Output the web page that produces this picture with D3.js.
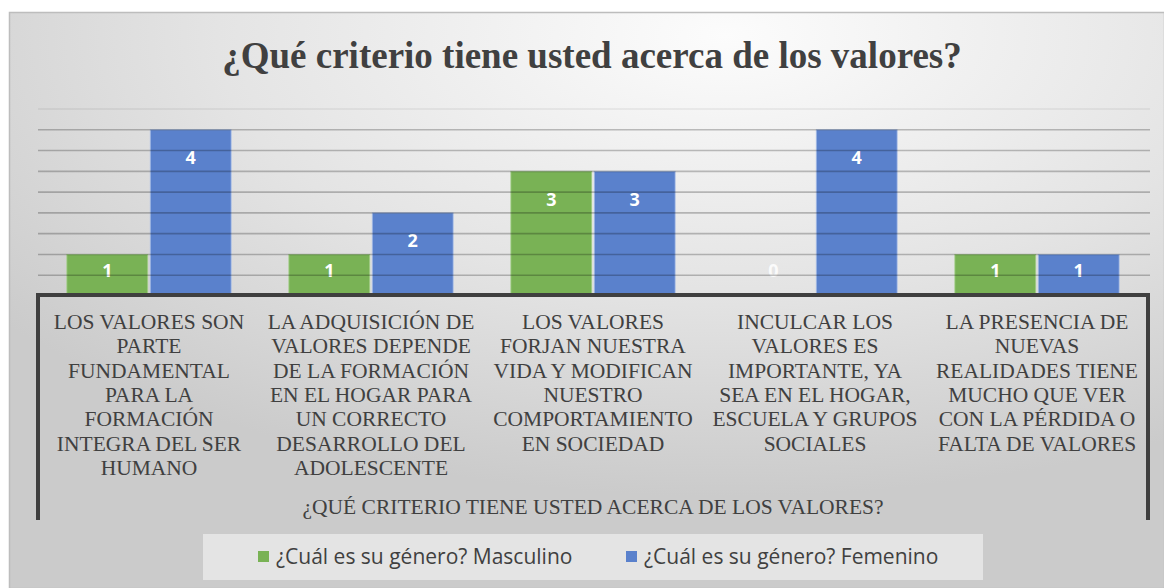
<!DOCTYPE html>
<html>
<head>
<meta charset="utf-8">
<script src="https://cdn.jsdelivr.net/npm/d3@7"></script>
<style>
  body { margin: 0; background: #ffffff; }
  svg { display: block; }
</style>
</head>
<body>
<script>
// chart values
var categories = [
  "LOS VALORES SON PARTE FUNDAMENTAL PARA LA FORMACIÓN INTEGRA DEL SER HUMANO",
  "LA ADQUISICIÓN DE VALORES DEPENDE DE LA FORMACIÓN EN EL HOGAR PARA UN CORRECTO DESARROLLO DEL ADOLESCENTE",
  "LOS VALORES FORJAN NUESTRA VIDA Y MODIFICAN NUESTRO COMPORTAMIENTO EN SOCIEDAD",
  "INCULCAR LOS VALORES ES IMPORTANTE, YA SEA EN EL HOGAR, ESCUELA Y GRUPOS SOCIALES",
  "LA PRESENCIA DE NUEVAS REALIDADES TIENE MUCHO QUE VER CON LA PÉRDIDA O FALTA DE VALORES"
];
var categoryLines = [
  ["LOS VALORES SON", "PARTE", "FUNDAMENTAL", "PARA LA", "FORMACIÓN", "INTEGRA DEL SER", "HUMANO"],
  ["LA ADQUISICIÓN DE", "VALORES DEPENDE", "DE LA FORMACIÓN", "EN EL HOGAR PARA", "UN CORRECTO", "DESARROLLO DEL", "ADOLESCENTE"],
  ["LOS VALORES", "FORJAN NUESTRA", "VIDA Y MODIFICAN", "NUESTRO", "COMPORTAMIENTO", "EN SOCIEDAD"],
  ["INCULCAR LOS", "VALORES ES", "IMPORTANTE, YA", "SEA EN EL HOGAR,", "ESCUELA Y GRUPOS", "SOCIALES"],
  ["LA PRESENCIA DE", "NUEVAS", "REALIDADES TIENE", "MUCHO QUE VER", "CON LA PÉRDIDA O", "FALTA DE VALORES"]
];
var seriesNames = ["¿Cuál es su género? Masculino", "¿Cuál es su género? Femenino"];
var masculino = [1, 1, 3, 0, 1];
var femenino = [4, 2, 3, 4, 1];
var gridValues = [0.5, 1, 1.5, 2, 2.5, 3, 3.5, 4, 4.5];
var seriesColors = ["#79b255", "#5a81cc"];

var title = "¿Qué criterio tiene usted acerca de los valores?";
var groupLabel = "¿QUÉ CRITERIO TIENE USTED ACERCA DE LOS VALORES?";

var width = 1164, height = 588;

var svg = d3.select("body").append("svg")
  .attr("width", width)
  .attr("height", height);

// background gradient of the chart area
var defs = svg.append("defs");
var grad = defs.append("radialGradient")
  .attr("id", "bg")
  .attr("cx", 0.62).attr("cy", 0.04).attr("r", 0.8)
  .attr("fx", 0.62).attr("fy", 0.04);
grad.append("stop").attr("offset", "0").attr("stop-color", "#fcfcfc");
grad.append("stop").attr("offset", "0.55").attr("stop-color", "#e4e4e4");
grad.append("stop").attr("offset", "1").attr("stop-color", "#cbcbcb");

svg.append("rect")
  .attr("x", 9.5).attr("y", 12.5)
  .attr("width", width - 9).attr("height", height - 12)
  .attr("fill", "url(#bg)")
  .attr("stroke", "#bdbdbd")
  .attr("stroke-width", 1.5);

// title
svg.append("text")
  .attr("x", 592).attr("y", 68)
  .attr("text-anchor", "middle")
  .style("font-family", "'Liberation Serif', 'Times New Roman', serif")
  .style("font-weight", "bold")
  .style("font-size", "37px")
  .attr("fill", "#404040")
  .text(title);

// scales
var plotLeft = 38, plotRight = 1148, plotBase = 296, plotTop = 109;
var x0 = d3.scaleBand().domain(d3.range(categories.length)).range([plotLeft, plotRight]);
var bw = x0.bandwidth();
var x1 = d3.scaleBand().domain([0, 1]).range([bw * 0.13, bw * 0.87]).paddingInner(0.03);
var y = d3.scaleLinear().domain([0, 4.5]).range([plotBase, plotTop]);

var rows = categories.map(function (c, i) {
  return { i: i, values: [masculino[i], femenino[i]] };
});

// bars
var groups = svg.selectAll("g.cat")
  .data(rows)
  .enter()
  .append("g")
  .attr("class", "cat")
  .attr("transform", function (d) { return "translate(" + x0(d.i) + ",0)"; });

groups.selectAll("rect")
  .data(function (d) { return d.values.map(function (v, s) { return { s: s, v: v }; }); })
  .enter()
  .append("rect")
  .attr("x", function (d) { return x1(d.s); })
  .attr("y", function (d) { return y(d.v); })
  .attr("width", x1.bandwidth())
  .attr("height", function (d) { return plotBase - y(d.v); })
  .attr("fill", function (d) { return seriesColors[d.s]; })
  .attr("stroke", function (d) { return d.s === 1 ? "#a9bfe8" : "#a6d08a"; })
  .attr("stroke-width", 0.8)
  .attr("stroke-opacity", function (d) { return d.v > 0 ? 1 : 0; });

// gridlines (drawn over the bars, semi transparent)
svg.selectAll("line.grid")
  .data(gridValues)
  .enter()
  .append("line")
  .attr("class", "grid")
  .attr("x1", plotLeft).attr("x2", plotRight + 2)
  .attr("y1", function (d) { return y(d); })
  .attr("y2", function (d) { return y(d); })
  .attr("stroke", "#000")
  .attr("stroke-opacity", function (d) { return d === 4.5 ? 0.07 : 0.24; })
  .attr("stroke-width", 1.6);

// data labels
groups.selectAll("text.val")
  .data(function (d) { return d.values.map(function (v, s) { return { s: s, v: v }; }); })
  .enter()
  .append("text")
  .attr("class", "val")
  .attr("x", function (d) { return x1(d.s) + x1.bandwidth() / 2; })
  .attr("y", function (d) { return Math.min(y(d.v) + 28, plotBase - 26) + 6.5; })
  .attr("text-anchor", "middle")
  .style("font-family", "'Open Sans', sans-serif")
  .style("font-weight", "bold")
  .style("font-size", "18px")
  .attr("fill", "#ffffff")
  .attr("fill-opacity", function (d) { return d.v === 0 ? 0.85 : 1; })
  .text(function (d) { return d.v; });

// axis frame (multi-level category axis)
svg.append("path")
  .attr("d", "M" + plotLeft + ",520 V" + (plotBase - 1) + " H" + plotRight + " V520")
  .attr("fill", "none")
  .attr("stroke", "#3f3f3f")
  .attr("stroke-width", 4);

// category labels
var lineH = 24.3;
svg.selectAll("text.catlabel")
  .data(rows)
  .enter()
  .append("text")
  .attr("class", "catlabel")
  .attr("text-anchor", "middle")
  .style("font-family", "'Liberation Serif', 'Times New Roman', serif")
  .style("font-size", "21.5px")
  .attr("fill", "#404040")
  .each(function (d) {
    var t = d3.select(this);
    categoryLines[d.i].forEach(function (line, k) {
      t.append("tspan")
        .attr("x", x0(d.i) + bw / 2)
        .attr("y", 329 + k * lineH)
        .text(line);
    });
  });

// group label
svg.append("text")
  .attr("x", 593).attr("y", 514)
  .attr("text-anchor", "middle")
  .style("font-family", "'Liberation Serif', 'Times New Roman', serif")
  .style("font-size", "21.5px")
  .attr("fill", "#404040")
  .text(groupLabel);

// legend
svg.append("rect")
  .attr("x", 203).attr("y", 534)
  .attr("width", 780).attr("height", 46)
  .attr("fill", "#ececec")
  .attr("fill-opacity", 0.75);

var legendX = [258, 626];
var legend = svg.selectAll("g.legend")
  .data(seriesNames)
  .enter()
  .append("g")
  .attr("class", "legend")
  .attr("transform", function (d, i) { return "translate(" + legendX[i] + ",551)"; });

legend.append("rect")
  .attr("width", 11).attr("height", 11)
  .attr("fill", function (d, i) { return seriesColors[i]; });

legend.append("text")
  .attr("x", 18).attr("y", 13)
  .style("font-family", "'Open Sans', sans-serif")
  .style("font-size", "21px")
  .attr("fill", "#404040")
  .text(function (d) { return d; });
</script>
</body>
</html>
